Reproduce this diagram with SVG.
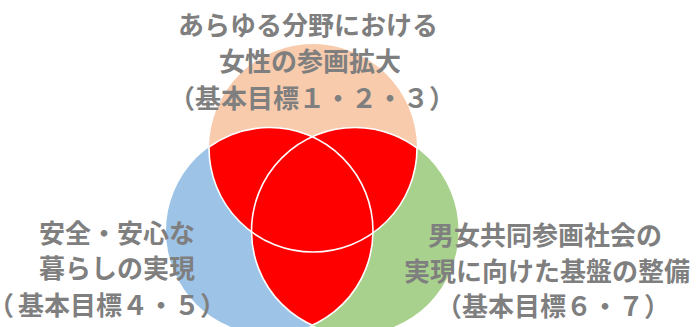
<svg xmlns="http://www.w3.org/2000/svg" width="698" height="327" viewBox="0 0 698 327">
  <style>
    .lbl { font-family: "Noto Sans CJK JP", "Noto Sans", sans-serif; font-weight: bold; font-size: 26px; fill: #7f7f7f; text-anchor: middle; }
    .lft { text-anchor: start; }
    .halt { font-feature-settings: "halt"; }
    .edge { fill: none; stroke: #ffffff; stroke-width: 1.6; }
  </style>
  <defs>
    <circle id="cT" cx="313" cy="148" r="104"/>
    <circle id="cL" cx="269.5" cy="231" r="103.5"/>
    <circle id="cR" cx="355" cy="231" r="103.5"/>
    <clipPath id="clipT"><use href="#cT"/></clipPath>
    <clipPath id="clipL"><use href="#cL"/></clipPath>
    <clipPath id="clipR"><use href="#cR"/></clipPath>
    <clipPath id="notT"><use href="#cL"/><use href="#cR"/></clipPath>
    <clipPath id="notL"><use href="#cT"/><use href="#cR"/></clipPath>
    <clipPath id="notR"><use href="#cT"/><use href="#cL"/></clipPath>
  </defs>

  <g id="circle-top"><use href="#cT" fill="#f8cbad"/></g>
  <g id="circle-left"><use href="#cL" fill="#9dc3e6"/></g>
  <g id="circle-right"><use href="#cR" fill="#a9d18e"/></g>

  <g id="overlaps">
    <use href="#cL" fill="#ff0000" clip-path="url(#clipT)"/>
    <use href="#cR" fill="#ff0000" clip-path="url(#clipT)"/>
    <use href="#cR" fill="#ff0000" clip-path="url(#clipL)"/>
  </g>

  <g id="connectors">
    <use href="#cT" class="edge" clip-path="url(#notT)"/>
    <use href="#cL" class="edge" clip-path="url(#notL)"/>
    <use href="#cR" class="edge" clip-path="url(#notR)"/>
  </g>

  <g id="label-top">
    <text class="lbl" x="308" y="35">あらゆる分野における</text>
    <text class="lbl" x="310" y="71">女性の参画拡大</text>
    <text class="lbl" x="312" y="108">（基本目標１・２・３）</text>
  </g>
  <g id="label-left">
    <text class="lbl" x="117" y="243">安全・安心な</text>
    <text class="lbl" x="117" y="278">暮らしの実現</text>
    <text class="lbl lft" x="1" y="315"><tspan class="halt">（</tspan><tspan dx="4">基本目標４・５）</tspan></text>
  </g>
  <g id="label-right">
    <text class="lbl" x="545" y="245">男女共同参画社会の</text>
    <text class="lbl" x="547" y="281">実現に向けた基盤の整備</text>
    <text class="lbl" x="553" y="316">（基本目標６・７）</text>
  </g>
</svg>
